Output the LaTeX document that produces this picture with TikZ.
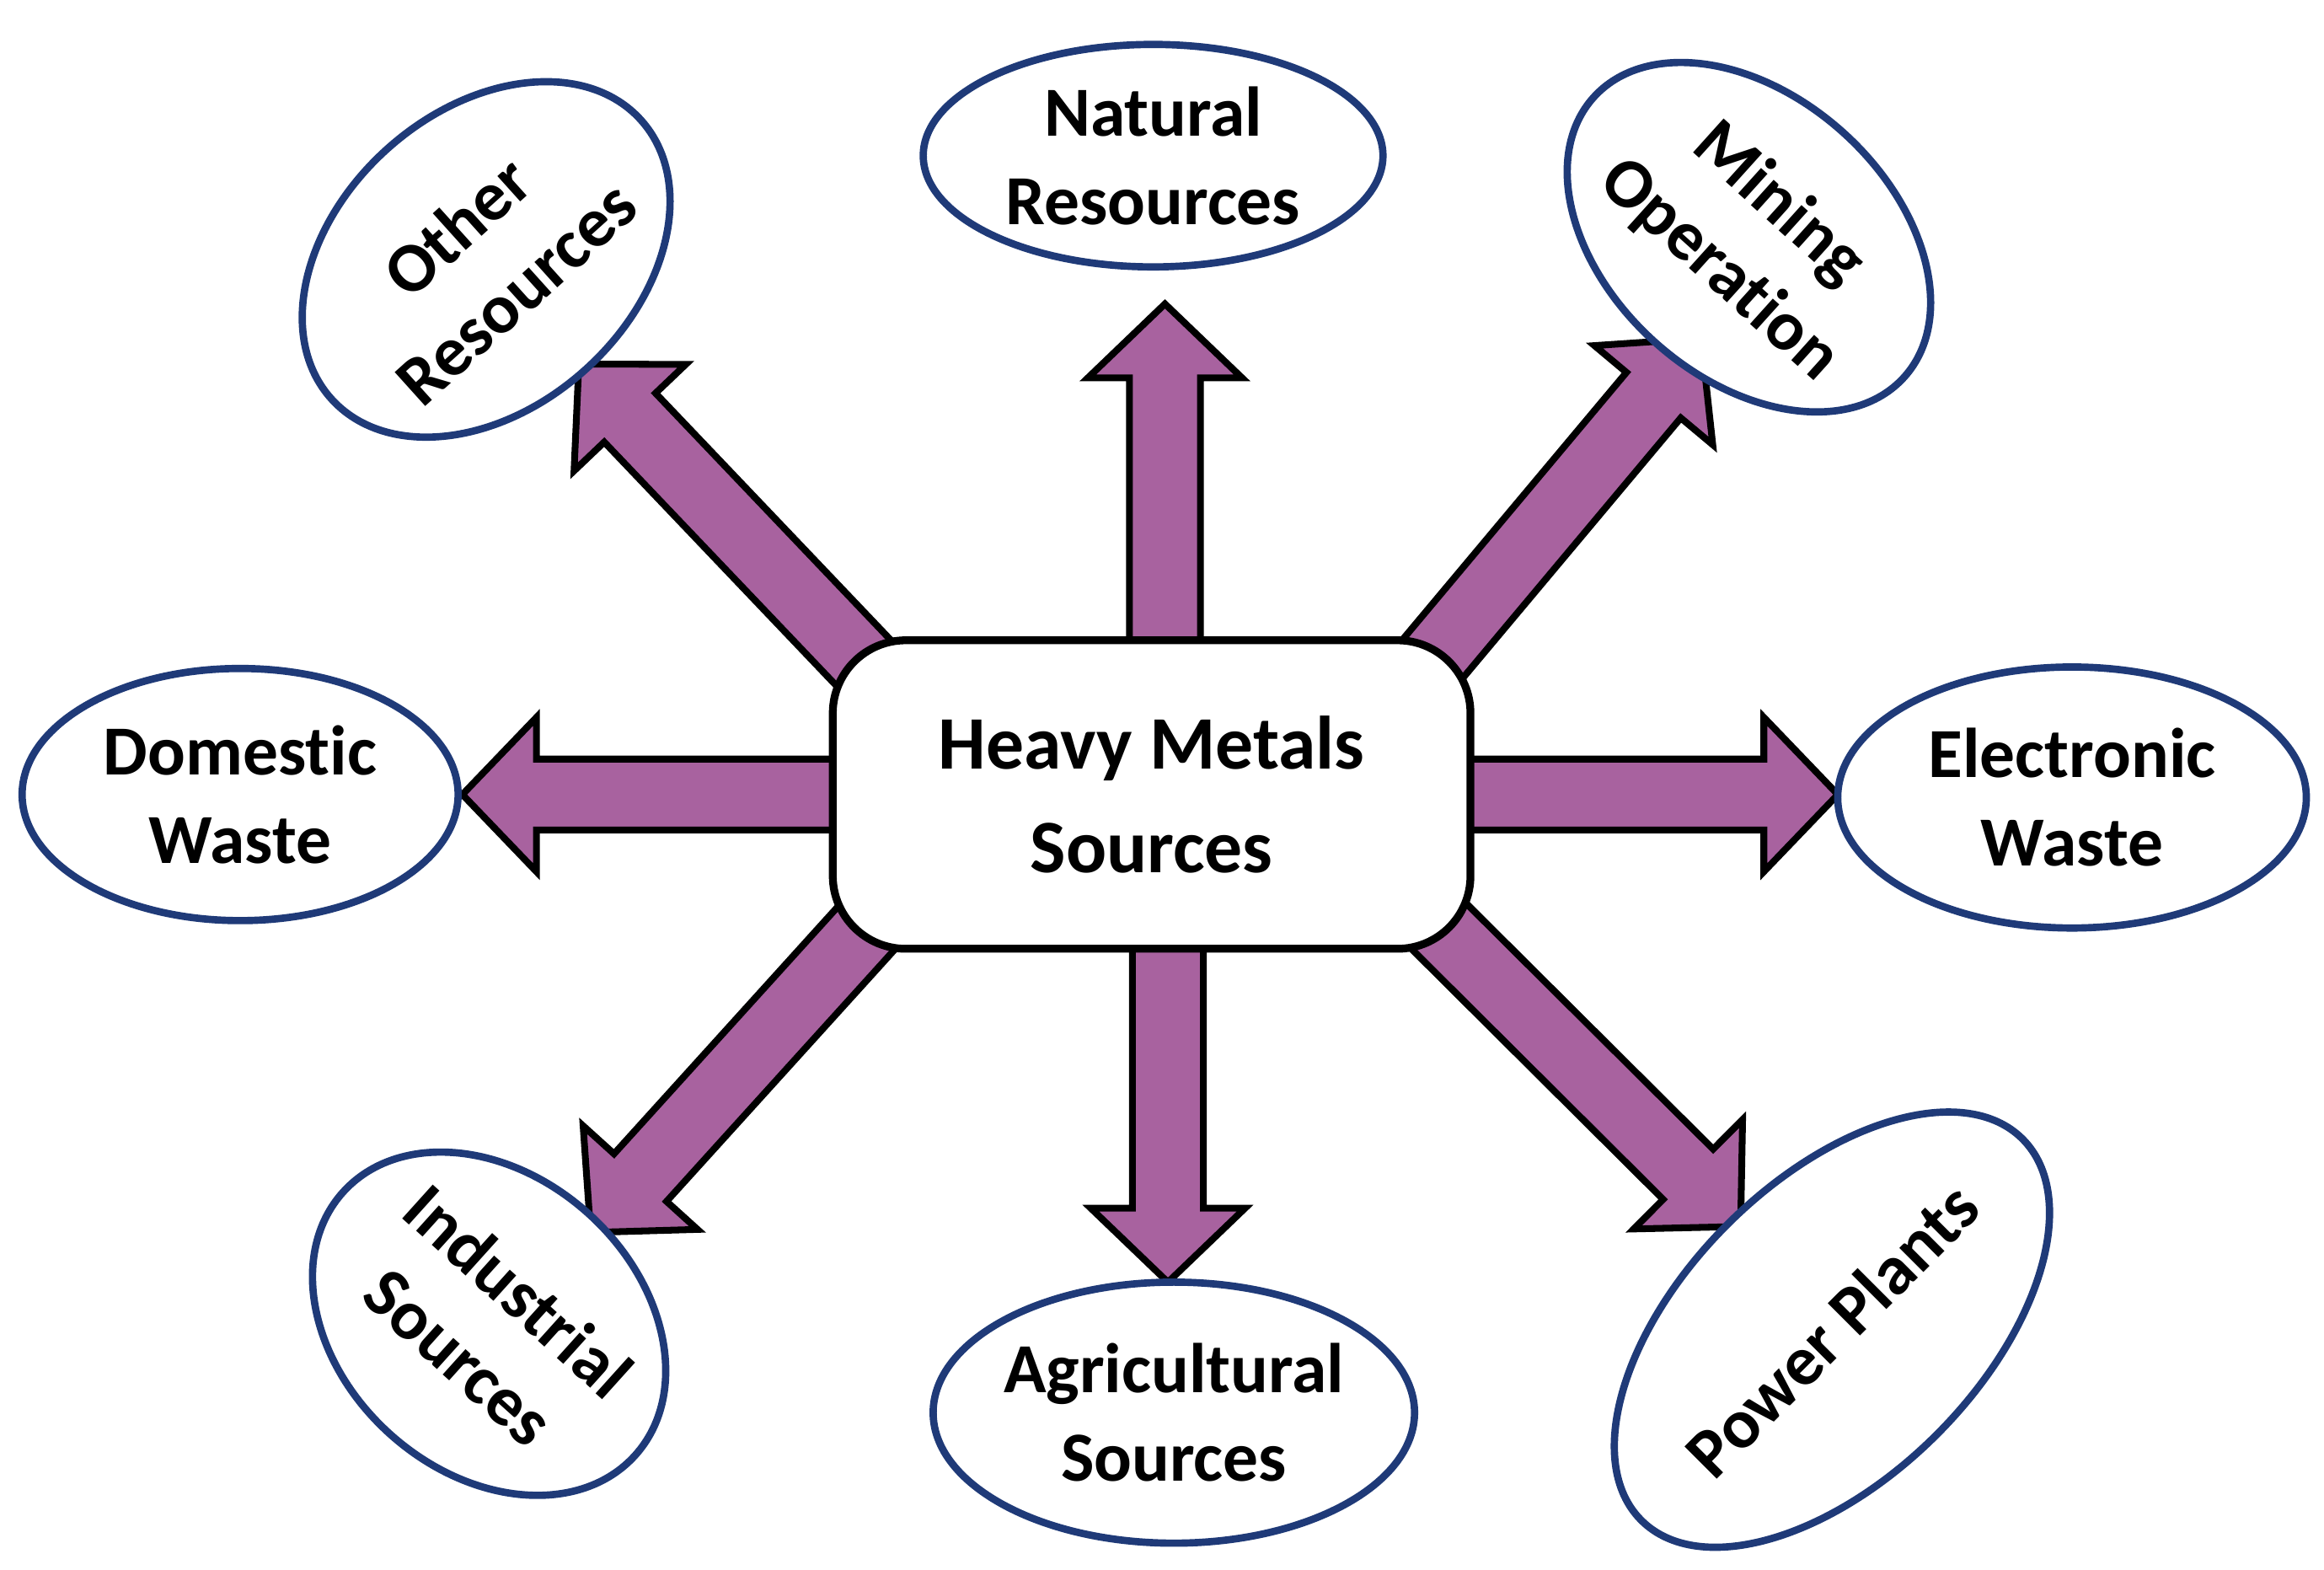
\documentclass[tikz,border=0pt]{standalone}
\usepackage{fontspec}
\setmainfont{Carlito}[Ligatures={NoCommon,NoRare,NoContextual}]
\usetikzlibrary{shapes.geometric,calc}
\definecolor{arrowfill}{HTML}{A8629F}
\definecolor{ellline}{HTML}{1F3A78}
\begin{document}
\begin{tikzpicture}[x=0.01cm,y=-0.01cm,
  fat/.style={fill=arrowfill,draw=black,line width=1.3pt,line join=miter},
  src/.style={ellipse,draw=ellline,line width=1.4pt,fill=white,align=center,
    font=\fontsize{13.5}{15}\selectfont\bfseries,inner sep=0pt},
  hub/.style={rectangle,rounded corners=14pt,draw=black,line width=1.5pt,fill=white,
    minimum width=4.3cm,minimum height=2.08cm,align=center,
    font=\fontsize{14.5}{17}\selectfont\bfseries}]
\useasboundingbox (0,0) rectangle (1568,1059);
\newcommand{\fatarrow}[2]{%
  \filldraw[fat] let \p1=($(#2)-(#1)$), \n1={veclen(\x1,\y1)}, \n2={atan2(\y1,\x1)} in
    [shift={(#1)},rotate=\n2] (0,-6.8pt) -- (\n1-14.2pt,-6.8pt) -- (\n1-14.2pt,-14.8pt)
    -- (\n1,0pt) -- (\n1-14.2pt,14.8pt) -- (\n1-14.2pt,6.8pt) -- (0,6.8pt) -- cycle;}
\coordinate (cN) at (786,450); \coordinate (tN) at (786,205);
\coordinate (cS) at (788,620); \coordinate (tS) at (788,865);
\coordinate (cW) at (580,536); \coordinate (tW) at (312,536);
\coordinate (cE) at (975,536); \coordinate (tE) at (1240,536);
\coordinate (cNW) at (592,457); \coordinate (tNW) at (390,245);
\coordinate (cNE) at (962,450); \coordinate (tNE) at (1148,228);
\coordinate (cSW) at (590,620); \coordinate (tSW) at (398,832);
\coordinate (cSE) at (968,622); \coordinate (tSE) at (1175,828);
\fatarrow{cN}{tN}\fatarrow{cS}{tS}\fatarrow{cW}{tW}\fatarrow{cE}{tE}
\fatarrow{cNW}{tNW}\fatarrow{cNE}{tNE}\fatarrow{cSW}{tSW}\fatarrow{cSE}{tSE}
\node[hub] (hub) at (777,536) {Heavy Metals\\[3pt]Sources};
\node[src,minimum width=3.1cm,minimum height=1.5cm] (nat) at (778,105) {Natural\\[2pt]Resources};
\node[src,minimum width=2.8cm,minimum height=1.9cm,rotate=-42] (min) at (1180,160) {Mining\\[2pt]Operation};
\node[src,minimum width=2.6cm,minimum height=2.0cm,rotate=42] (oth) at (328,175) {Other\\[2pt]Resources};
\node[src,minimum width=2.94cm,minimum height=1.7cm] (dom) at (162,536) {Domestic\\[2pt]Waste};
\node[src,minimum width=3.16cm,minimum height=1.76cm] (ele) at (1398,538) {Electronic\\[2pt]Waste};
\node[src,minimum width=2.6cm,minimum height=2.0cm,rotate=-42] (ind) at (330,893) {Industrial\\[2pt]Sources};
\node[src,minimum width=3.14cm,minimum height=1.76cm] (agr) at (792,953) {Agricultural\\[2pt]Sources};
\node[src,minimum width=2.9cm,minimum height=2.0cm,rotate=45] (pow) at (1236,897) {Power Plants};
\end{tikzpicture}
\end{document}
